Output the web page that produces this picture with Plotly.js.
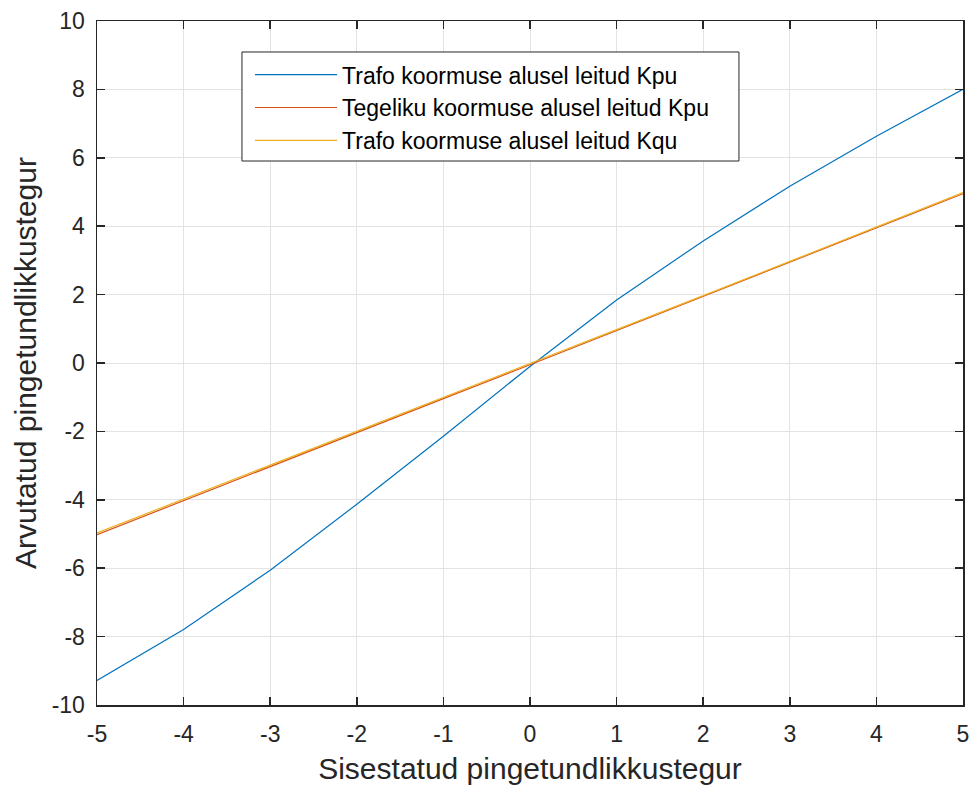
<!DOCTYPE html>
<html>
<head>
<meta charset="utf-8">
<script src="https://cdn.plot.ly/plotly-3.0.1.min.js"></script>
<style>body{margin:0;padding:0;background:#fff}#chart{width:971px;height:789px}</style>
</head>
<body>
<div id="chart"></div>
<script>
const xVals = [-5, -4, -3, -2, -1, 0, 1, 2, 3, 4, 5];
const trafoKpu = [-9.28, -7.79, -6.06, -4.13, -2.14, -0.1, 1.84, 3.57, 5.17, 6.63, 8.0];
const tegelikuKpu = [-5.02, -4.02, -3.03, -2.03, -1.04, -0.05, 0.95, 1.95, 2.95, 3.95, 4.95];
const trafoKqu = [-4.97, -3.98, -2.99, -1.99, -1.0, -0.03, 0.97, 1.97, 2.97, 3.97, 4.98];
const seriesNames = ["Trafo koormuse alusel leitud Kpu", "Tegeliku koormuse alusel leitud Kpu", "Trafo koormuse alusel leitud Kqu"];
const xTicks = [-5, -4, -3, -2, -1, 0, 1, 2, 3, 4, 5];
const yTicks = [-10, -8, -6, -4, -2, 0, 2, 4, 6, 8, 10];

const colors = ["#0072BD", "#D95319", "#EDB120"];
const ys = [trafoKpu, tegelikuKpu, trafoKqu];
const traces = ys.map((y, i) => ({
  x: xVals, y: y, type: "scatter", mode: "lines", name: seriesNames[i],
  line: {color: colors[i], width: 1.2}
}));

const FONT = "Liberation Sans, Arial, sans-serif";
const axisCommon = {
  showline: true, mirror: "ticks", linecolor: "#262626", linewidth: 1.5,
  ticks: "inside", ticklen: 8, tickwidth: 1.5, tickcolor: "#262626",
  showgrid: true, gridcolor: "#e3e3e3", gridwidth: 1, zeroline: false,
  tickfont: {family: FONT, size: 23, color: "#262626"}
};

const layout = {
  width: 971, height: 789,
  margin: {l: 97, r: 8, t: 21, b: 84},
  paper_bgcolor: "#fff", plot_bgcolor: "#fff",
  showlegend: true,
  xaxis: Object.assign({}, axisCommon, {
    range: [-5, 5], tickvals: xTicks, ticktext: xTicks.map(String),
    ticklabelstandoff: 8,
    title: {text: "Sisestatud pingetundlikkustegur", font: {family: FONT, size: 30, color: "#262626"}, standoff: 12}
  }),
  yaxis: Object.assign({}, axisCommon, {
    range: [-10, 10], tickvals: yTicks, ticktext: yTicks.map(String),
    ticklabelstandoff: 6,
    title: {text: "Arvutatud pingetundlikkustegur", font: {family: FONT, size: 30, color: "#262626"}, standoff: 6}
  }),
  shapes: [{
    type: "rect", xref: "paper", yref: "paper", layer: "above",
    x0: 0.1674, x1: 0.7413, y0: 0.7953, y1: 0.9547,
    fillcolor: "#fff", line: {color: "#262626", width: 1}
  }],
  legend: {
    x: 0.1767, y: 0.953, xanchor: "left", yanchor: "top",
    bgcolor: "rgba(0,0,0,0)", borderwidth: 0,
    font: {family: FONT, size: 23, color: "#000"},
    itemwidth: 82, tracegroupgap: 0
  }
};

Plotly.newPlot("chart", traces, layout, {displayModeBar: false, staticPlot: true});
</script>
</body>
</html>
